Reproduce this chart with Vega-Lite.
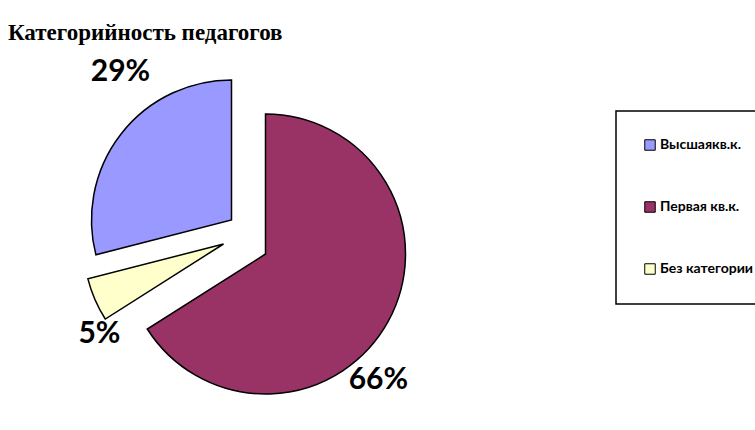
{
  "$schema": "https://vega.github.io/schema/vega-lite/v6.json",
  "width": 755,
  "height": 430,
  "autosize": {"type": "none"},
  "padding": 0,
  "background": "white",
  "title": {
    "text": "Категорийность педагогов",
    "anchor": "start",
    "frame": "group",
    "font": "Liberation Serif",
    "fontSize": 23,
    "fontWeight": "bold",
    "color": "black",
    "baseline": "alphabetic",
    "dx": 8,
    "dy": 63,
    "offset": 0
  },
  "data": {
    "values": [
      {"category": "Высшаякв.к.", "value": 0.29},
      {"category": "Первая кв.к.", "value": 0.66},
      {"category": "Без категории", "value": 0.05}
    ]
  },
  "transform": [
    {"stack": "value", "groupby": [], "sort": [{"field": "category", "order": "ascending"}], "as": ["v0", "v1"]}
  ],
  "layer": [
    {
      "transform": [{"filter": "datum.category === 'Первая кв.к.'"}],
      "mark": {"type": "arc", "outerRadius": 140, "stroke": "black", "strokeWidth": 1.5, "xOffset": -112, "yOffset": 39},
      "encoding": {
        "theta": {"field": "v0", "type": "quantitative", "scale": {"domain": [0, 1], "range": [4.1469, 10.4301]}},
        "theta2": {"field": "v1"},
        "color": {"field": "category", "type": "nominal", "scale": {"domain": ["Высшаякв.к.", "Первая кв.к.", "Без категории"], "range": ["#9999FF", "#993366", "#FFFFCC"]}}
      }
    },
    {
      "transform": [{"filter": "datum.category === 'Без категории'"}],
      "mark": {"type": "arc", "outerRadius": 140, "stroke": "black", "strokeWidth": 1.5, "xOffset": -154, "yOffset": 29},
      "encoding": {
        "theta": {"field": "v0", "type": "quantitative", "scale": {"domain": [0, 1], "range": [4.1469, 10.4301]}},
        "theta2": {"field": "v1"},
        "color": {"field": "category", "type": "nominal"}
      }
    },
    {
      "transform": [{"filter": "datum.category === 'Высшаякв.к.'"}],
      "mark": {"type": "arc", "outerRadius": 140, "stroke": "black", "strokeWidth": 1.5, "xOffset": -146, "yOffset": 5},
      "encoding": {
        "theta": {"field": "v0", "type": "quantitative", "scale": {"domain": [0, 1], "range": [4.1469, 10.4301]}},
        "theta2": {"field": "v1"},
        "color": {"field": "category", "type": "nominal"}
      }
    },
    {
      "transform": [{"filter": "datum.category === 'Первая кв.к.'"}],
      "mark": {"type": "text", "radius": 169, "thetaOffset": 2.41, "xOffset": -112, "yOffset": 39, "font": "Lato", "fontSize": 30, "fontWeight": "bold", "align": "center", "baseline": "middle", "color": "black"},
      "encoding": {
        "theta": {"field": "v0", "type": "quantitative"},
        "text": {"field": "value", "type": "quantitative", "format": ".0%"}
      }
    },
    {
      "transform": [{"filter": "datum.category === 'Без категории'"}],
      "mark": {"type": "text", "radius": 153, "thetaOffset": -0.06, "xOffset": -154, "yOffset": 29, "font": "Lato", "fontSize": 30, "fontWeight": "bold", "align": "center", "baseline": "middle", "color": "black"},
      "encoding": {
        "theta": {"field": "v0", "type": "quantitative"},
        "text": {"field": "value", "type": "quantitative", "format": ".0%"}
      }
    },
    {
      "transform": [{"filter": "datum.category === 'Высшаякв.к.'"}],
      "mark": {"type": "text", "radius": 185, "thetaOffset": -0.644, "xOffset": -146, "yOffset": 5, "font": "Lato", "fontSize": 30, "fontWeight": "bold", "align": "center", "baseline": "middle", "color": "black"},
      "encoding": {
        "theta": {"field": "v1", "type": "quantitative"},
        "text": {"field": "value", "type": "quantitative", "format": ".0%"}
      }
    }
  ],
  "resolve": {"legend": {"color": "shared"}},
  "config": {
    "view": {"stroke": null},
    "legend": {
      "title": null,
      "orient": "none",
      "legendX": 616,
      "legendY": 111,
      "symbolType": "square",
      "symbolSize": 110,
      "symbolStrokeColor": "black",
      "symbolStrokeWidth": 1,
      "labelFont": "Lato",
      "labelFontSize": 14,
      "labelFontWeight": "bold",
      "labelColor": "black",
      "labelLimit": 300,
      "labelOffset": 3,
      "rowPadding": 46,
      "padding": 27,
      "strokeColor": "black",
      "strokeWidth": 1.5,
      "fillColor": "white"
    }
  }
}
